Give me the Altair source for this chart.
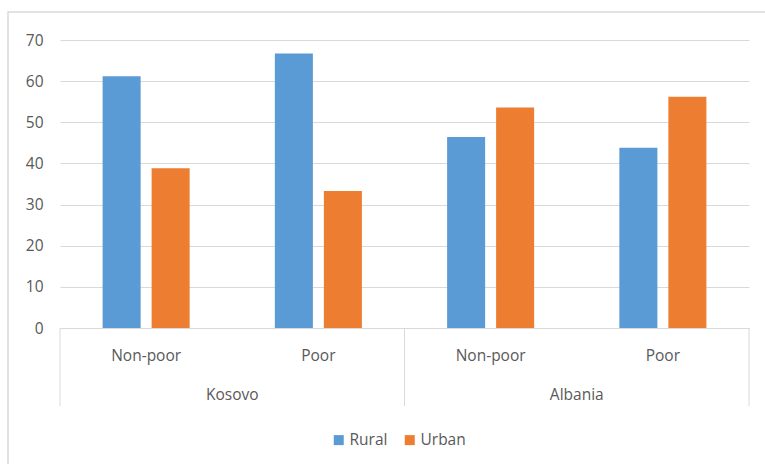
import altair as alt
import pandas as pd

# Share of population by area of residence (%)
countries = ["Kosovo", "Kosovo", "Albania", "Albania"]
poverty = ["Non-poor", "Poor", "Non-poor", "Poor"]
rural = [61.2, 66.7, 46.4, 43.8]
urban = [38.8, 33.3, 53.6, 56.2]
series = ["Rural", "Urban"]
colors = ["#5B9BD5", "#ED7D31"]
y_ticks = [0, 10, 20, 30, 40, 50, 60, 70]

TEXT = "#595959"
GRID = "#d9d9d9"
FONT = "Open Sans"
FS = 15.5

group_order = [f"{c}|{p}" for c, p in zip(countries, poverty)]
rows = []
for key, r, u in zip(group_order, rural, urban):
    rows.append({"group": key, "series": "Rural", "value": r})
    rows.append({"group": key, "series": "Urban", "value": u})
bars_df = pd.DataFrame(rows)

# country spans on a 0..n index axis: separators at boundaries, labels at midpoints
n = len(countries)
names, spans = [], []
for i, c in enumerate(countries):
    if not names or names[-1] != c:
        names.append(c)
        spans.append([i, i + 1])
    else:
        spans[-1][1] = i + 1
country_df = pd.DataFrame({"country": names, "mid": [(a + b) / 2 for a, b in spans]})
sep_df = pd.DataFrame({"pos": sorted({a for a, _ in spans} | {b for _, b in spans})})

idx_scale = alt.Scale(domain=[0, n], nice=False, zero=False)

bars = alt.Chart(bars_df).mark_bar().encode(
    x=alt.X(
        "group:N",
        sort=group_order,
        scale=alt.Scale(paddingInner=0.431, paddingOuter=0.2155),
        axis=alt.Axis(
            title=None,
            labelExpr="split(datum.label, '|')[1]",
            labelAngle=0,
            ticks=False,
            domain=True,
            domainColor=GRID,
            domainWidth=1,
            labelPadding=20,
            labelFontSize=FS,
            labelColor=TEXT,
            labelFont=FONT,
            grid=False,
        ),
    ),
    xOffset=alt.XOffset(
        "series:N", sort=series, scale=alt.Scale(paddingInner=0.224, paddingOuter=0.112)
    ),
    y=alt.Y(
        "value:Q",
        scale=alt.Scale(domain=[0, 70], nice=False),
        axis=alt.Axis(
            values=y_ticks,
            title=None,
            domain=False,
            ticks=False,
            labelPadding=17,
            labelFontSize=FS,
            labelColor=TEXT,
            labelFont=FONT,
            gridColor=GRID,
            gridWidth=1,
        ),
    ),
    color=alt.Color(
        "series:N",
        scale=alt.Scale(domain=series, range=colors),
        legend=alt.Legend(
            title=None,
            orient="none",
            legendX=271,
            legendY=392,
            direction="horizontal",
            symbolType="square",
            symbolSize=100,
            symbolStrokeWidth=0,
            labelFontSize=FS,
            labelColor=TEXT,
            labelFont=FONT,
            labelOffset=3,
            columnPadding=14,
        ),
    ),
)

separators = alt.Chart(sep_df).mark_rule(color=GRID, strokeWidth=1).encode(
    x=alt.X("pos:Q", scale=idx_scale, axis=None),
    y=alt.value(288),
    y2=alt.value(366),
)

country_labels = alt.Chart(country_df).mark_text(
    fontSize=FS, color=TEXT, font=FONT, baseline="middle", align="center"
).encode(
    x=alt.X("mid:Q", scale=idx_scale, axis=None),
    y=alt.value(355),
    text="country:N",
)

frame = alt.Chart(pd.DataFrame({"k": [0]})).mark_rect(
    fill=None, stroke=GRID, strokeWidth=1.5
).encode(
    x=alt.value(-52), x2=alt.value(730), y=alt.value(-28), y2=alt.value(450)
)

chart = (
    alt.layer(frame, bars, separators, country_labels)
    .resolve_scale(x="independent")
    .properties(
        width=689,
        height=288,
        autosize=alt.AutoSizeParams(type="none"),
        padding={"left": 60, "top": 40, "right": 16, "bottom": 136},
        background="white",
    )
    .configure_view(stroke=None)
)

chart.save("out.html", embed_options={"renderer": "svg", "actions": False})
